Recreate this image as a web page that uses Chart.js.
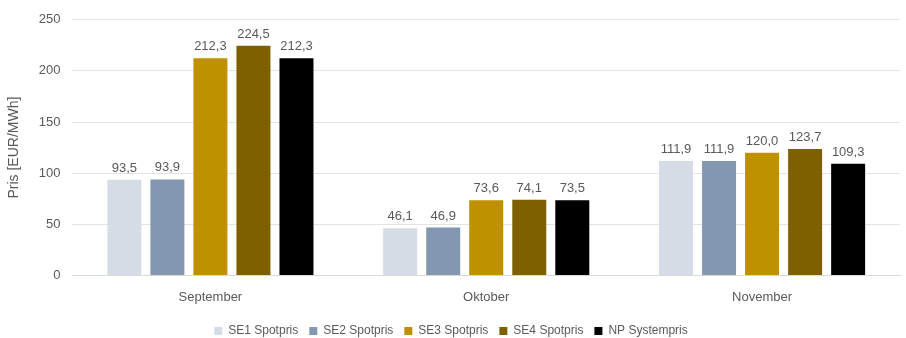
<!DOCTYPE html>
<html>
<head>
<meta charset="utf-8">
<script src="https://cdn.jsdelivr.net/npm/chart.js@4"></script>
<style>
  html, body { margin: 0; padding: 0; background: #fff; }
  #wrap { width: 906px; height: 338px; position: relative; }
</style>
</head>
<body>
<div id="wrap"><canvas id="priceChart"></canvas></div>
<script>
// Månader och spotpriser per elområde (EUR/MWh)
const months   = ['September', 'Oktober', 'November'];
const se1      = [93.5, 46.1, 111.9];
const se2      = [93.9, 46.9, 111.9];
const se3      = [212.3, 73.6, 120.0];
const se4      = [224.5, 74.1, 123.7];
const npSystem = [212.3, 73.5, 109.3];
const yTicks   = [0, 50, 100, 150, 200, 250];

const TEXT = '#595959';
const FONT = 'Liberation Sans';

// Värdeetiketter ovanför staplarna, med decimalkomma
const valueLabels = {
  id: 'valueLabels',
  afterDatasetsDraw(chart) {
    const { ctx } = chart;
    ctx.save();
    ctx.fillStyle = TEXT;
    ctx.font = '13px ' + FONT;
    ctx.textAlign = 'center';
    ctx.textBaseline = 'bottom';
    chart.data.datasets.forEach((ds, i) => {
      chart.getDatasetMeta(i).data.forEach((bar, j) => {
        ctx.fillText(ds.data[j].toFixed(1).replace('.', ','), bar.x, bar.y - 5);
      });
    });
    ctx.restore();
  }
};

const mk = (label, data, color) => ({
  label, data, backgroundColor: color, borderWidth: 0,
  categoryPercentage: 0.78, barPercentage: 0.79,
});

new Chart(document.getElementById('priceChart'), {
  type: 'bar',
  data: {
    labels: months,
    datasets: [
      mk('SE1 Spotpris', se1, '#d6dce5'),
      mk('SE2 Spotpris', se2, '#8497b0'),
      mk('SE3 Spotpris', se3, '#bf9000'),
      mk('SE4 Spotpris', se4, '#7f6000'),
      mk('NP Systempris', npSystem, '#000000'),
    ],
  },
  options: {
    responsive: true,
    maintainAspectRatio: false,
    animation: false,
    layout: { padding: { top: 9, right: 6, left: 2, bottom: -9 } },
    plugins: {
      tooltip: { enabled: false },
      legend: {
        position: 'bottom',
        labels: {
          color: TEXT,
          font: { size: 12, family: FONT },
          boxWidth: 8, boxHeight: 8,
          padding: 11,
        },
      },
    },
    scales: {
      x: {
        grid: { display: false },
        border: { color: '#d9d9d9' },
        ticks: { color: TEXT, font: { size: 13, family: FONT }, padding: 6 },
        // lite extra luft mellan månadsnamnen och förklaringen
        afterFit: s => { s.height += 3; },
      },
      y: {
        min: 0, max: 250,
        afterBuildTicks: axis => { axis.ticks = yTicks.map(v => ({ value: v })); },
        grid: { color: '#e3e3e3', drawTicks: false },
        border: { display: false },
        ticks: { color: TEXT, font: { size: 13, family: FONT }, padding: 12 },
        title: {
          display: true, text: 'Pris [EUR/MWh]',
          color: TEXT, font: { size: 14, family: FONT }, padding: 4,
        },
      },
    },
  },
  plugins: [valueLabels],
});
</script>
</body>
</html>
